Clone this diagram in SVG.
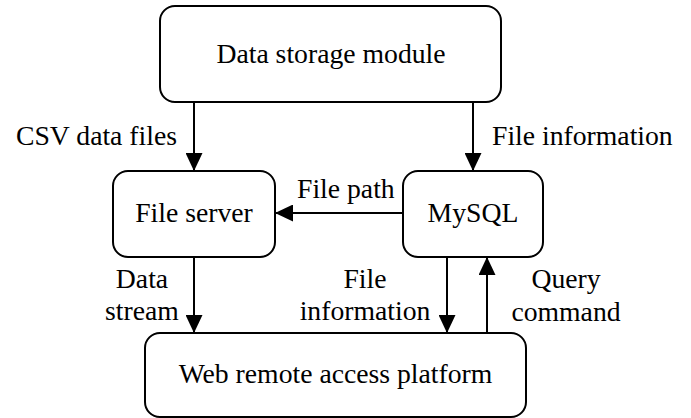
<svg xmlns="http://www.w3.org/2000/svg" width="691" height="418" viewBox="0 0 691 418">
  <style>
    .box { fill: #ffffff; stroke: #000000; stroke-width: 2; }
    text { font-family: 'Liberation Serif', 'DejaVu Serif', serif; font-size: 27.7px; fill: #000000; }
    .mid { text-anchor: middle; }
    .wire { fill: none; stroke: #000000; stroke-width: 2; marker-end: url(#head); }
  </style>
  <defs>
    <marker id="head" viewBox="0 0 18 17" refX="18" refY="8.5" markerWidth="18" markerHeight="17" markerUnits="userSpaceOnUse" orient="auto">
      <path d="M0,0 L18,8.5 L0,17 Z" fill="#000000"/>
    </marker>
  </defs>
  <rect width="691" height="418" fill="#ffffff"/>

  <g id="connectors" font-family="Liberation Serif">
    <line class="wire" x1="194" y1="102" x2="194" y2="171"/>
    <line class="wire" x1="473" y1="102" x2="473" y2="171"/>
    <line class="wire" x1="403" y1="213" x2="275" y2="213"/>
    <line class="wire" x1="194" y1="257" x2="194" y2="333"/>
    <line class="wire" x1="447" y1="257" x2="447" y2="333"/>
    <line class="wire" x1="487" y1="333" x2="487" y2="257"/>
    <text x="16" y="145">CSV data files</text>
    <text x="492" y="145">File information</text>
    <text x="297" y="198">File path</text>
    <text class="mid" x="142" y="288">Data</text>
    <text class="mid" x="142" y="320">stream</text>
    <text class="mid" x="365" y="288">File</text>
    <text class="mid" x="365" y="320">information</text>
    <text class="mid" x="566" y="288">Query</text>
    <text class="mid" x="566" y="321">command</text>
  </g>

  <g id="storage">
    <rect class="box" x="160" y="6" width="341" height="96" rx="15"/>
    <text class="mid" x="331" y="63">Data storage module</text>
  </g>
  <g id="fileserver">
    <rect class="box" x="113" y="171" width="162" height="86" rx="15"/>
    <text class="mid" x="194" y="222">File server</text>
  </g>
  <g id="mysql">
    <rect class="box" x="403" y="171" width="140" height="86" rx="15"/>
    <text class="mid" x="473" y="222">MySQL</text>
  </g>
  <g id="web">
    <rect class="box" x="145" y="333" width="381" height="84" rx="15"/>
    <text class="mid" x="335.5" y="383">Web remote access platform</text>
  </g>
</svg>
